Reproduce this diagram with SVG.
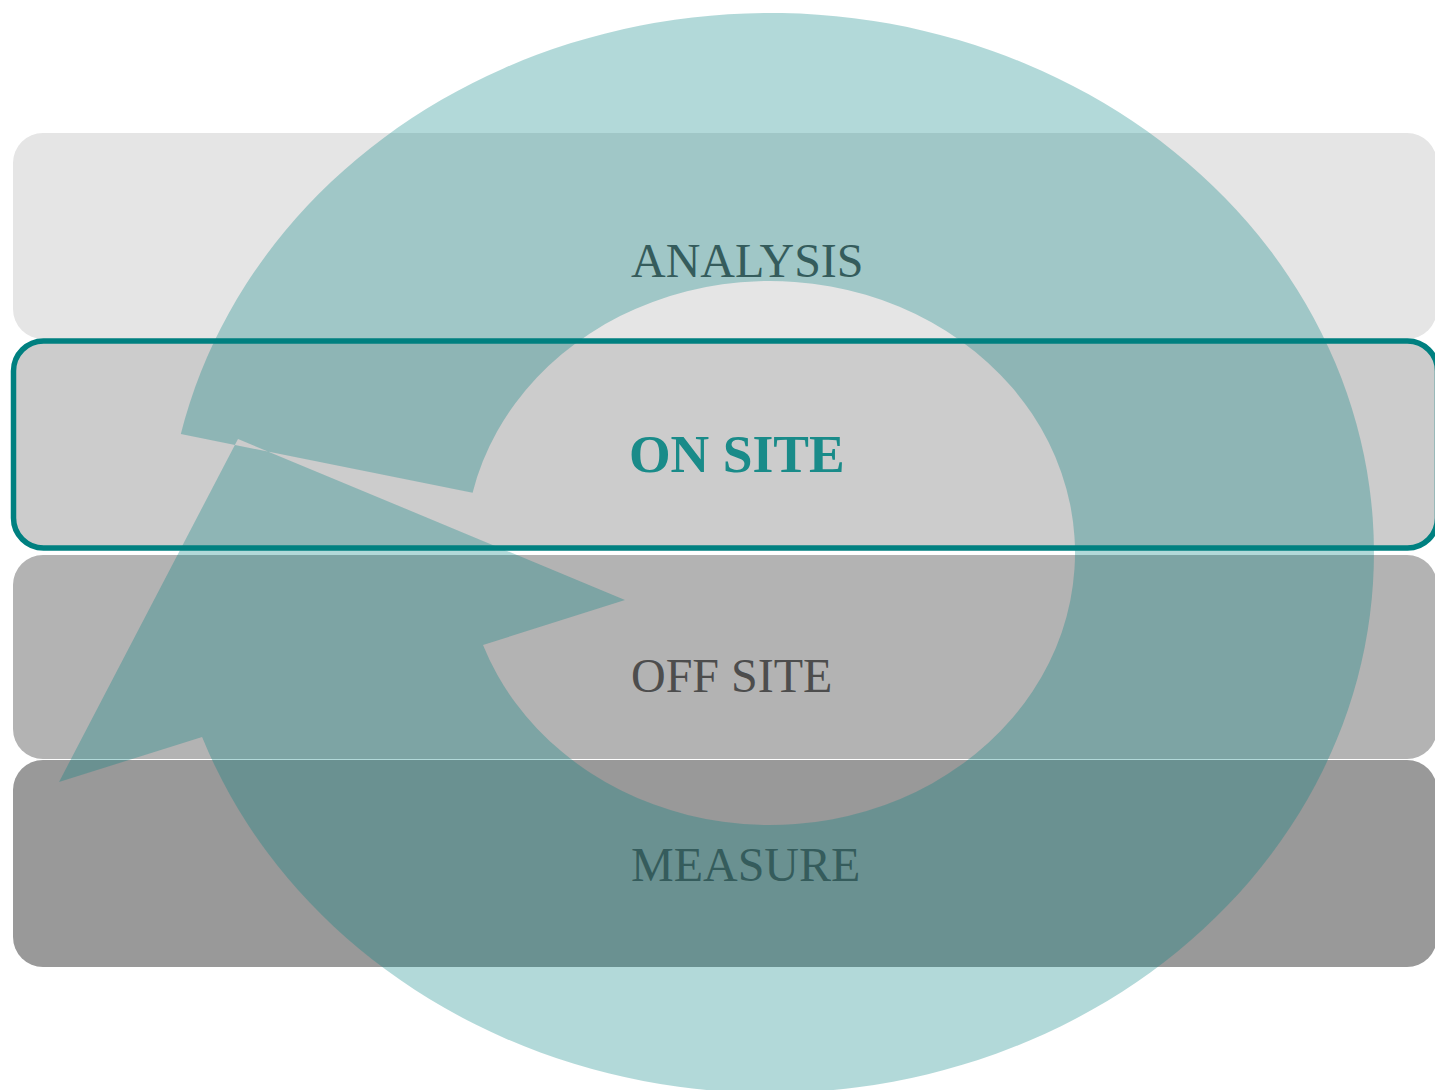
<svg xmlns="http://www.w3.org/2000/svg" width="1435" height="1090" viewBox="0 0 1435 1090">
  <style>
    .band { stroke: none; }
    .lbl { font-family: "Liberation Serif", "Times New Roman", serif; font-size: 48px; fill: #4d4d4d; }
    .lbl-active { font-family: "Liberation Serif", "Times New Roman", serif; font-size: 53.5px; font-weight: bold; fill: #198b89; }
    .cycle { fill: #008080; fill-opacity: 0.3; fill-rule: evenodd; stroke: none; }
  </style>
  <rect width="1435" height="1090" fill="#ffffff"/>
  <g id="analysis">
    <rect class="band" x="13" y="133" width="1424" height="206" rx="30" ry="30" fill="#e5e5e5"/>
    <text class="lbl" x="631" y="277">ANALYSIS</text>
  </g>
  <g id="on-site">
    <rect x="13.5" y="341" width="1424" height="207" rx="30" ry="30" fill="#cccccc" stroke="#008080" stroke-width="5.5"/>
    <text class="lbl-active" x="629" y="472">ON SITE</text>
  </g>
  <g id="off-site">
    <rect class="band" x="13" y="555" width="1424" height="204" rx="30" ry="30" fill="#b3b3b3"/>
    <text class="lbl" x="631" y="692">OFF SITE</text>
  </g>
  <g id="measure">
    <rect class="band" x="13" y="760" width="1424" height="207" rx="30" ry="30" fill="#999999"/>
    <text class="lbl" x="631" y="881">MEASURE</text>
  </g>
  <g id="connectors">
    <path class="cycle" d="M180.8,434 A604,540 0 1,1 202.1,737 L59,782 L238,439 L625,600 L483,645 A305,272 0 1,0 472.6,492.7 Z"/>
  </g>
</svg>
